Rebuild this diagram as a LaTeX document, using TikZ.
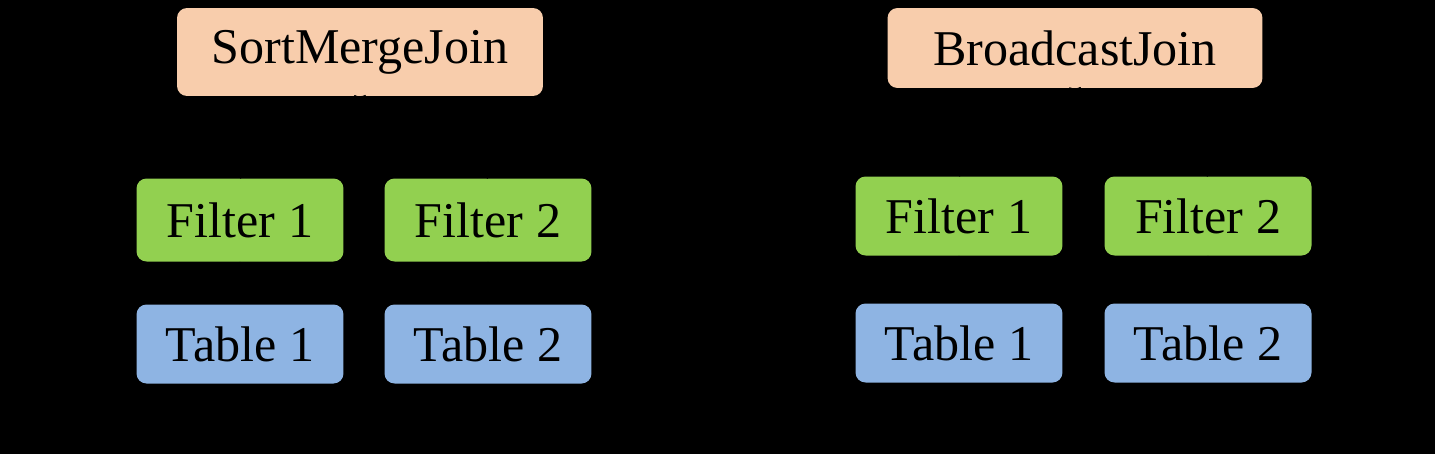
\documentclass[tikz,border=0pt]{standalone}
\usepackage{fontspec}
\setmainfont{Liberation Serif}
\usepackage{tikz}
\usetikzlibrary{arrows, shapes, calc, positioning}
\definecolor{joincolor}{RGB}{248,205,172}
\definecolor{filtercolor}{RGB}{146,208,80}
\definecolor{tablecolor}{RGB}{142,180,227}
\begin{document}
\begin{tikzpicture}[x=0.02cm, y=-0.02cm]
	\tikzstyle{box_style}=[rectangle, rounded corners=2mm, inner sep=0pt, font=\fontsize{28.5}{34}\selectfont]
	\tikzstyle{join_style}=[box_style, fill=joincolor]
	\tikzstyle{filter_style}=[box_style, fill=filtercolor, minimum width=4.14cm, minimum height=1.66cm]
	\tikzstyle{table_style}=[box_style, fill=tablecolor, minimum width=4.14cm, minimum height=1.58cm]
	% background
	\fill[black] (0, 0) rectangle (1435, 454);
	\useasboundingbox (0, 0) rectangle (1435, 454);
	% sort merge join
	\node at (360, 52) [join_style, minimum width=7.32cm, minimum height=1.76cm] (sortmerge) {SortMergeJoin};
	\foreach \x/\c in {1/240, 2/488} {
		\draw node at (\c, 220) [filter_style] (smj_filter_\x) {Filter \x};
		\draw node at (\c, 344) [table_style] (smj_table_\x) {Table \x};
	}
	% broadcast join
	\node at (1075, 48) [join_style, minimum width=7.5cm, minimum height=1.6cm] (broadcast) {BroadcastJoin};
	\foreach \x/\c in {1/959, 2/1208} {
		\draw node at (\c, 216) [filter_style, minimum height=1.58cm] (bj_filter_\x) {Filter \x};
		\draw node at (\c, 343) [table_style] (bj_table_\x) {Table \x};
	}
	% connect: table -> filter -> join
	\foreach \i in {1,2} {
		\path[->, thick, black] (smj_table_\i) edge (smj_filter_\i);
		\path[->, thick, black] (smj_filter_\i.north) edge (sortmerge.south);
		\path[->, thick, black] (bj_table_\i) edge (bj_filter_\i);
		\path[->, thick, black] (bj_filter_\i.north) edge (broadcast.south);
	}
\end{tikzpicture}
\end{document}
